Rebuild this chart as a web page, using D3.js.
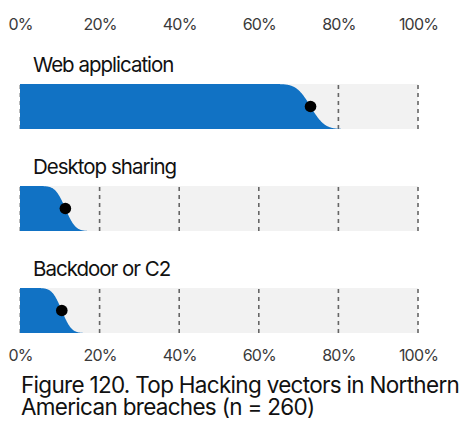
<!DOCTYPE html>
<html><head><meta charset="utf-8">
<script src="https://cdn.jsdelivr.net/npm/d3@7"></script>
<style>
html,body{margin:0;padding:0;background:#fff;}
svg{display:block;font-family:Inter,"Liberation Sans",sans-serif;}
</style></head>
<body>
<svg id="c" width="472" height="437"></svg>
<script>
(function(){
const categories = ["Web application", "Desktop sharing", "Backdoor or C2"];
const values = [73, 11.4, 10.5];      // percent, point estimate
const sampleSize = 260;
const tickValues = [0, 20, 40, 60, 80, 100];
const titleLines = ["Figure 120. Top Hacking vectors in Northern", "American breaches (n = 260)"];

const svg = d3.select("#c");
const x = d3.scaleLinear().domain([0, 100]).range([20, 418]);
const rowTop = d3.scaleLinear().domain([0, 1]).range([84, 186]);
const barH = 45;

function erf(z){
  const s = z < 0 ? -1 : 1; z = Math.abs(z);
  const t = 1/(1+0.3275911*z);
  const y = 1 - (((((1.061405429*t - 1.453152027)*t) + 1.421413741)*t - 0.284496736)*t + 0.254829592)*t*Math.exp(-z*z);
  return s*y;
}
const Phi = z => 0.5*(1+erf(z/Math.SQRT2));

const fmt = d => d + "%";
const axTop = svg.append("g").attr("transform","translate(0,30)")
  .call(d3.axisTop(x).tickValues(tickValues).tickFormat(fmt).tickSize(0).tickPadding(0));
const axBot = svg.append("g").attr("transform","translate(0,345)")
  .call(d3.axisBottom(x).tickValues(tickValues).tickFormat(fmt).tickSize(0).tickPadding(0));
[axTop, axBot].forEach(g => {
  g.select(".domain").remove();
  g.selectAll("text").attr("font-family","Inter,'Liberation Sans',sans-serif")
   .attr("font-size", 16).attr("fill", "#3a3a3a").attr("letter-spacing", -0.8);
});
axTop.selectAll("text").attr("dy", 0);
axBot.selectAll("text").attr("dy", 0).attr("y", 15.5);

const rows = svg.selectAll("g.row").data(categories).join("g")
  .attr("class","row").attr("transform", (d,i) => `translate(0,${rowTop(i)})`);

rows.append("rect").attr("x", x(0)).attr("y", 0).attr("width", x(100)-x(0)).attr("height", barH)
  .attr("fill", "#f2f2f2");

rows.selectAll("line.grid").data(tickValues).join("line").attr("class","grid")
  .attr("x1", d => x(d)).attr("x2", d => x(d)).attr("y1", 0).attr("y2", barH)
  .attr("stroke", d => d === 0 ? "#aaa" : "#666").attr("stroke-width", 1.6)
  .attr("stroke-dasharray", "4,4").attr("stroke-dashoffset", -1);

rows.each(function(cat, i){
  const p = values[i];
  const se = Math.sqrt((p/100)*(1-p/100)/sampleSize)*100;
  const xs = d3.range(0, 100.01, 0.1);
  const area = d3.area()
    .x(v => x(v))
    .y0(v => barH*Phi((v - p)/se))
    .y1(barH)
    .curve(d3.curveLinear);
  const g = d3.select(this);
  g.append("path").datum(xs).attr("d", area).attr("fill", "#1172c4");
  g.append("circle").attr("cx", x(p)).attr("cy", barH/2).attr("r", 5.8).attr("fill", "#000");
  g.append("text").attr("x", 33).attr("y", -12.5).text(cat)
    .attr("font-size", 20.5).attr("fill", "#111").attr("letter-spacing", -1.0);
});

const title = svg.append("g").attr("font-size", 22.5).attr("fill", "#111").attr("letter-spacing", -0.7);
title.selectAll("text").data(titleLines).join("text")
  .attr("x", 21).attr("y", (d,i) => 393 + i*22).text(d => d);
})();
</script>
</body></html>
